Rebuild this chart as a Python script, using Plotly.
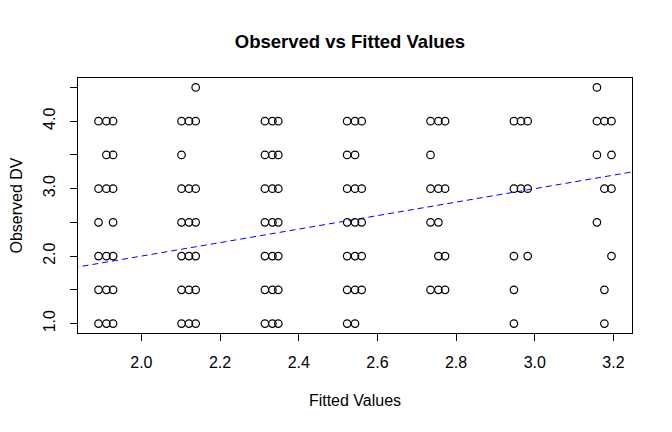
import plotly.graph_objects as go

# Fitted-value columns within each of the seven clusters (a, b, c)
cluster_x = [
    [1.891, 1.911, 1.928],
    [2.102, 2.121, 2.138],
    [2.314, 2.333, 2.348],
    [2.523, 2.543, 2.560],
    [2.735, 2.755, 2.772],
    [2.947, 2.965, 2.982],
    [3.158, 3.177, 3.195],
]

# Observed DV levels present per cluster and column (a, b, c)
cluster_points = [
    {4.0: "abc", 3.5: "bc", 3.0: "abc", 2.5: "ac", 2.0: "abc", 1.5: "abc", 1.0: "abc"},
    {4.5: "c", 4.0: "abc", 3.5: "a", 3.0: "abc", 2.5: "abc", 2.0: "abc", 1.5: "abc", 1.0: "abc"},
    {4.0: "abc", 3.5: "abc", 3.0: "abc", 2.5: "abc", 2.0: "abc", 1.5: "abc", 1.0: "abc"},
    {4.0: "abc", 3.5: "ab", 3.0: "abc", 2.5: "abc", 2.0: "abc", 1.5: "abc", 1.0: "ab"},
    {4.0: "abc", 3.5: "a", 3.0: "abc", 2.5: "ab", 2.0: "bc", 1.5: "abc"},
    {4.0: "abc", 3.0: "abc", 2.0: "ac", 1.5: "a", 1.0: "a"},
    {4.5: "a", 4.0: "abc", 3.5: "ac", 3.0: "bc", 2.5: "a", 2.0: "c", 1.5: "b", 1.0: "b"},
]

fitted = []
observed = []
for xs, pts in zip(cluster_x, cluster_points):
    for yv, cols in pts.items():
        for c in cols:
            fitted.append(xs["abc".index(c)])
            observed.append(yv)

# Reference line (observed regressed on fitted): intercept 0, slope 1
line_intercept = 0.0
line_slope = 1.0
line_x = [1.7, 3.4]
line_y = [line_intercept + line_slope * v for v in line_x]

y_ticks = [1.0, 1.5, 2.0, 2.5, 3.0, 3.5, 4.0, 4.5]
y_ticktext = ["1.0", "", "2.0", "", "3.0", "", "4.0", ""]
x_ticks = [2.0, 2.2, 2.4, 2.6, 2.8, 3.0, 3.2]
x_ticktext = ["2.0", "2.2", "2.4", "2.6", "2.8", "3.0", "3.2"]

font_family = "Liberation Sans, Arial, Helvetica, sans-serif"

fig = go.Figure()
fig.add_trace(go.Scatter(
    x=line_x, y=line_y, mode="lines",
    line=dict(color="blue", width=1, dash="6px,4px"),
    hoverinfo="skip", showlegend=False,
))
fig.add_trace(go.Scatter(
    x=fitted, y=observed, mode="markers",
    marker=dict(symbol="circle-open", size=7.5, color="black", line=dict(width=1.2, color="black")),
    showlegend=False,
))

xmin, xmax = min(fitted), max(fitted)
ymin, ymax = min(observed), max(observed)
xpad = (xmax - xmin) * 0.04
ypad = (ymax - ymin) * 0.04

# the page body adds an 8px offset, so margins are shifted to compensate
fig.update_layout(
    width=672, height=432,
    margin=dict(l=70, r=48, t=70, b=107),
    paper_bgcolor="white", plot_bgcolor="white",
    font=dict(family=font_family, color="black", size=16),
    title=dict(text="<b>Observed vs Fitted Values</b>", x=342 / 672, xanchor="center",
               y=1 - 34 / 432, yanchor="middle",
               font=dict(size=18.5, family=font_family, color="black")),
    xaxis=dict(
        range=[xmin - xpad, xmax + xpad],
        tickvals=x_ticks, ticktext=x_ticktext,
        ticks="outside", ticklen=7, tickwidth=1, tickcolor="black",
        ticklabelstandoff=8, automargin=False,
        showline=True, linecolor="black", linewidth=1, mirror=True,
        showgrid=False, zeroline=False,
        tickfont=dict(size=16),
        title=dict(text="Fitted Values", font=dict(size=16), standoff=24),
    ),
    yaxis=dict(
        range=[ymin - ypad, ymax + ypad],
        tickvals=y_ticks, ticktext=y_ticktext, tickangle=-90,
        ticks="outside", ticklen=7, tickwidth=1, tickcolor="black",
        ticklabelstandoff=9, automargin=False,
        showline=True, linecolor="black", linewidth=1, mirror=True,
        showgrid=False, zeroline=False,
        tickfont=dict(size=16),
        title=dict(text="Observed DV", font=dict(size=16), standoff=22),
    ),
)

fig.write_html("out.html")
